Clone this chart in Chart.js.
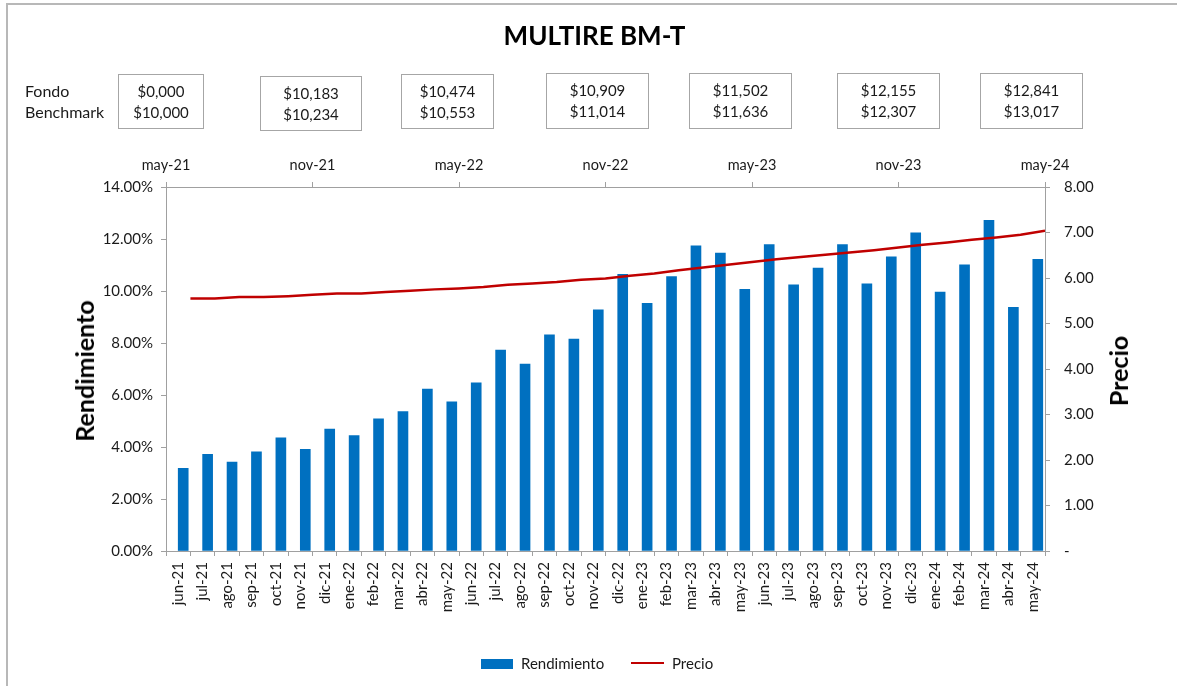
<!DOCTYPE html>
<html>
<head>
<meta charset="utf-8">
<script src="https://cdn.jsdelivr.net/npm/chart.js@4.4.1/dist/chart.umd.min.js"></script>
<style>
  html, body { margin:0; padding:0; background:#fff; }
  #wrap { position:relative; width:1177px; height:686px; overflow:hidden; font-family: Lato, "Open Sans", sans-serif; color:#1a1a1a; }
  #frameTop { position:absolute; left:7px; top:3px; width:1170px; height:0; border-top:2px solid #b8b8b8; }
  #frameLeft { position:absolute; left:6px; top:3px; width:0; height:683px; border-left:2px solid #b8b8b8; }
  canvas { position:absolute; left:0; top:0; }
  #title { position:absolute; left:0; width:1189px; top:19px; text-align:center; font-weight:700; font-size:26px; color:#000; }
  .lbl { position:absolute; left:25px; font-size:16px; }
  .box { position:absolute; border:1px solid #a6a6a6; background:#fff; text-align:center; font-size:15px; line-height:21px; box-sizing:border-box; padding-top:6px; }
  .ytitle { position:absolute; font-weight:700; font-size:25px; color:#000; transform:translate(-50%,-50%) rotate(-90deg); white-space:nowrap; }
  #legend { position:absolute; top:654px; left:0; width:1177px; font-size:15px; }
  .lg { position:absolute; top:0; white-space:nowrap; }
</style>
</head>
<body>
<div id="wrap">
  <canvas id="c" width="1177" height="686"></canvas>
  <div id="frameTop"></div>
  <div id="frameLeft"></div>
  <div id="title">MULTIRE BM-T</div>
  <div class="lbl" style="top:81px">Fondo</div>
  <div class="lbl" style="top:102px">Benchmark</div>
  <div id="boxes"></div>
  <div class="ytitle" style="left:84px; top:371px">Rendimiento</div>
  <div class="ytitle" style="left:1118px; top:371px">Precio</div>
  <div id="legend">
    <div class="lg" style="left:481px; top:5px; width:32px; height:10px; background:#0070C0"></div>
    <div class="lg" style="left:521px; top:0px">Rendimiento</div>
    <div class="lg" style="left:631px; top:8px; width:33px; height:0; border-top:2.5px solid #C00000"></div>
    <div class="lg" style="left:672px; top:0px">Precio</div>
  </div>
</div>
<script>
const months = ['jun-21','jul-21','ago-21','sep-21','oct-21','nov-21','dic-21','ene-22','feb-22','mar-22','abr-22','may-22',
  'jun-22','jul-22','ago-22','sep-22','oct-22','nov-22','dic-22','ene-23','feb-23','mar-23','abr-23','may-23',
  'jun-23','jul-23','ago-23','sep-23','oct-23','nov-23','dic-23','ene-24','feb-24','mar-24','abr-24','may-24'];
const rendimiento = [3.18,3.72,3.42,3.81,4.35,3.91,4.69,4.44,5.08,5.36,6.23,5.74,
  6.47,7.73,7.19,8.31,8.15,9.28,10.64,9.53,10.55,11.74,11.46,10.06,
  11.79,10.24,10.88,11.79,10.28,11.31,12.24,9.96,11.01,12.72,9.37,11.22];
const precio = [5.55,5.55,5.58,5.58,5.60,5.63,5.66,5.66,5.69,5.72,5.75,5.77,
  5.80,5.85,5.88,5.91,5.96,5.99,6.05,6.10,6.17,6.23,6.29,6.35,
  6.41,6.46,6.51,6.56,6.61,6.67,6.73,6.78,6.84,6.89,6.95,7.04];
const topLabels = ['may-21','nov-21','may-22','nov-22','may-23','nov-23','may-24'];
const fondo = ['$0,000','$10,183','$10,474','$10,909','$11,502','$12,155','$12,841'];
const benchmark = ['$10,000','$10,234','$10,553','$11,014','$11,636','$12,307','$13,017'];

// info boxes (layout only)
const boxGeom = [[118,74,86,55],[260,76,102,55],[401,74,93,55],[546,73,103,56],[689,73,103,56],[837,73,103,56],[980,73,103,56]];
const boxesEl = document.getElementById('boxes');
fondo.forEach((f,i)=>{
  const d = document.createElement('div');
  d.className='box';
  const g = boxGeom[i];
  d.style.left=g[0]+'px'; d.style.top=g[1]+'px'; d.style.width=g[2]+'px'; d.style.height=g[3]+'px';
  d.innerHTML = f + '<br>' + benchmark[i];
  boxesEl.appendChild(d);
});

const AX = '#a0a0a0';
const tickFont = {family:'Lato', size:15};
const TXT = '#1a1a1a';

new Chart(document.getElementById('c'), {
  type:'bar',
  data:{
    labels: months,
    datasets:[
      {type:'line', label:'Precio', data: precio.map((v,i)=>({x:i+1, y:v})), xAxisID:'x2', yAxisID:'y2',
       borderColor:'#C00000', borderWidth:2.5, pointRadius:0, tension:0, order:0, fill:false},
      {type:'bar', label:'Rendimiento', data: rendimiento, xAxisID:'x', yAxisID:'y',
       backgroundColor:'#0070C0', borderWidth:0, barThickness:10, order:1}
    ]
  },
  options:{
    responsive:false,
    animation:false,
    layout:{padding:0},
    plugins:{legend:{display:false}, tooltip:{enabled:false}, title:{display:false}},
    scales:{
      x:{
        type:'category', position:'bottom', offset:true,
        grid:{display:true, drawOnChartArea:false, offset:true, tickLength:5, color:AX},
        border:{display:true, color:AX},
        ticks:{autoSkip:false, minRotation:90, maxRotation:90, font:tickFont, color:TXT, padding:6},
        afterFit:(s)=>{ s.height = 135; }
      },
      x2:{
        type:'linear', position:'top', min:0, max:36, offset:false,
        grid:{display:true, drawOnChartArea:false, offset:false, tickLength:5, color:AX},
        border:{display:true, color:AX},
        ticks:{stepSize:6, autoSkip:false, maxRotation:0, font:{family:'Lato', size:14.5}, color:TXT, padding:8,
          callback:(v)=> topLabels[Math.round(v/6)] },
        afterFit:(s)=>{ s.height = 187; }
      },
      y:{
        type:'linear', position:'left', min:0, max:14,
        grid:{display:true, drawOnChartArea:false, tickLength:5, color:AX},
        border:{display:true, color:AX},
        ticks:{stepSize:2, font:tickFont, color:TXT, padding:8, callback:(v)=> v.toFixed(2)+'%'},
        afterFit:(s)=>{ s.width = 166; }
      },
      y2:{
        type:'linear', position:'right', min:0, max:8,
        grid:{display:true, drawOnChartArea:false, tickLength:5, color:AX},
        border:{display:true, color:AX},
        ticks:{stepSize:1, font:tickFont, color:TXT, padding:14, callback:(v)=> v===0 ? '-' : v.toFixed(2)},
        afterFit:(s)=>{ s.width = 132; }
      }
    }
  }
});
</script>
</body>
</html>
